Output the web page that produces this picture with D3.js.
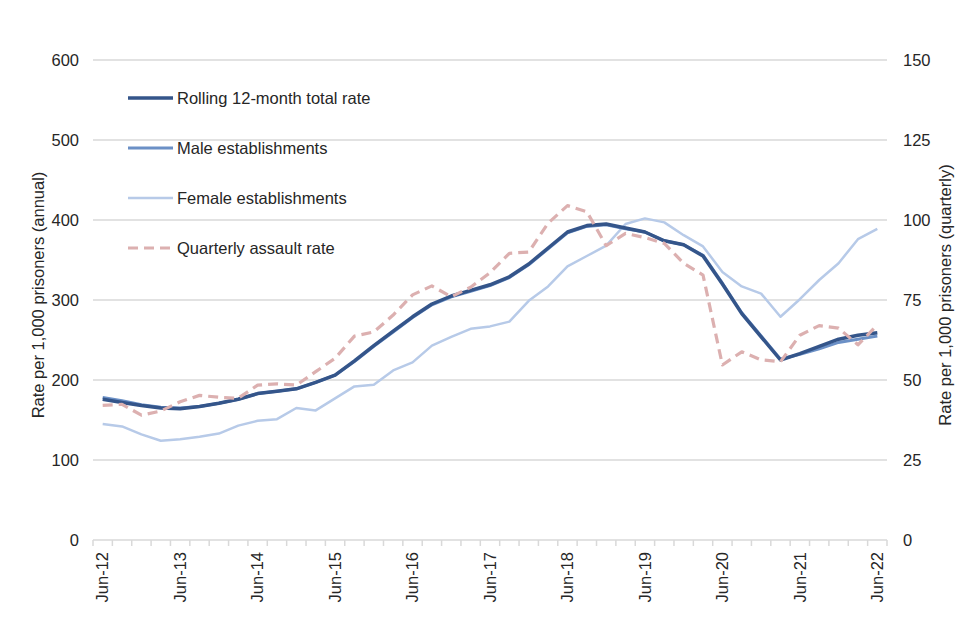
<!DOCTYPE html>
<html>
<head>
<meta charset="utf-8">
<script src="https://d3js.org/d3.v7.min.js"></script>
<style>
  body { margin: 0; background: #fff; }
  text { font-family: "Liberation Sans", Arial, sans-serif; fill: #262626; }
</style>
</head>
<body>
<div id="chart"></div>
<script>
// Quarterly periods, Jun-12 to Jun-22
var quarters = [
  "Jun-12", "Sep-12", "Dec-12", "Mar-13",
  "Jun-13", "Sep-13", "Dec-13", "Mar-14",
  "Jun-14", "Sep-14", "Dec-14", "Mar-15",
  "Jun-15", "Sep-15", "Dec-15", "Mar-16",
  "Jun-16", "Sep-16", "Dec-16", "Mar-17",
  "Jun-17", "Sep-17", "Dec-17", "Mar-18",
  "Jun-18", "Sep-18", "Dec-18", "Mar-19",
  "Jun-19", "Sep-19", "Dec-19", "Mar-20",
  "Jun-20", "Sep-20", "Dec-20", "Mar-21",
  "Jun-21", "Sep-21", "Dec-21", "Mar-22",
  "Jun-22"
];

// Rolling 12-month rates (left axis)
var totalRate = [176, 172, 168, 165, 164, 167, 171, 176, 183, 186, 189, 197, 206, 224, 243, 261,
  279, 295, 305, 312, 319, 329, 345, 365, 385, 393, 395, 390, 385, 374, 369, 355,
  320, 283, 254, 225, 233, 242, 251, 256, 259];
var maleRate = [178, 174, 169, 166, 165, 167, 171, 176, 183, 186, 189, 197, 206, 223, 242, 260,
  278, 294, 304, 311, 318, 328, 344, 364, 384, 392, 394, 389, 385, 374, 369, 356,
  321, 284, 255, 226, 232, 239, 247, 251, 255];
var femaleRate = [145, 142, 132, 124, 126, 129, 133, 143, 149, 151, 165, 162, 177, 192, 194, 212,
  222, 243, 254, 264, 267, 273, 299, 317, 342, 355, 368, 395, 402, 397, 381, 367,
  335, 317, 308, 279, 301, 325, 346, 376, 389];

// Quarterly assault rate (right axis)
var quarterlyRate = [42.1, 42.4, 39, 40.3, 43.2, 45.2, 44.6, 44.3, 48.4, 48.8, 48.4, 52.6, 56.8, 63.7, 65, 70.3,
  76.6, 79.4, 76, 79, 83.5, 89.6, 90, 99, 104.5, 102.6, 92, 95.8, 94.5, 92.7, 86.5, 82.8,
  54.7, 58.8, 56.3, 55.7, 64, 67, 66.2, 61, 67.2];

var leftTicks = [0, 100, 200, 300, 400, 500, 600];
var rightTicks = [0, 25, 50, 75, 100, 125, 150];

var series = [
  { name: "Rolling 12-month total rate", values: totalRate, axis: "left", color: "#34558a", width: 3.5, dash: null },
  { name: "Male establishments", values: maleRate, axis: "left", color: "#6b90c6", width: 3, dash: null },
  { name: "Female establishments", values: femaleRate, axis: "left", color: "#b7cae8", width: 2.5, dash: null },
  { name: "Quarterly assault rate", values: quarterlyRate, axis: "right", color: "#dcb0b0", width: 3.2, dash: "10,6" }
];

var fontSize = "16.5px";

var svgWidth = 960;
var svgHeight = 640;

var margin = {
  top: 60,
  right: 73,
  bottom: 100,
  left: 93
};

var width = svgWidth - margin.left - margin.right;
var height = svgHeight - margin.top - margin.bottom;

var svg = d3.select("#chart")
  .append("svg")
  .attr("width", svgWidth)
  .attr("height", svgHeight);

var chartGroup = svg.append("g")
  .attr("transform", `translate(${margin.left}, ${margin.top})`);

var xScale = d3.scaleBand()
  .domain(quarters)
  .range([0, width]);

var yLeft = d3.scaleLinear()
  .domain([0, 600])
  .range([height, 0]);

var yRight = d3.scaleLinear()
  .domain([0, 150])
  .range([height, 0]);

// gridlines
chartGroup.append("g")
  .selectAll("line")
  .data(leftTicks.slice(1))
  .enter()
  .append("line")
  .attr("x1", 0)
  .attr("x2", width)
  .attr("y1", d => yLeft(d))
  .attr("y2", d => yLeft(d))
  .attr("stroke", "#d9d9d9")
  .attr("stroke-width", 1.5);

// left axis labels
var leftAxis = d3.axisLeft(yLeft)
  .tickValues(leftTicks)
  .tickSize(0)
  .tickPadding(14);

chartGroup.append("g")
  .call(leftAxis)
  .call(g => g.select(".domain").remove())
  .selectAll("text")
  .attr("font-size", fontSize)
  .attr("font-family", "Liberation Sans, Arial, sans-serif")
  .attr("fill", "#262626");

// right axis labels
var rightAxis = d3.axisRight(yRight)
  .tickValues(rightTicks)
  .tickSize(0)
  .tickPadding(16);

chartGroup.append("g")
  .attr("transform", `translate(${width}, 0)`)
  .call(rightAxis)
  .call(g => g.select(".domain").remove())
  .selectAll("text")
  .attr("font-size", fontSize)
  .attr("font-family", "Liberation Sans, Arial, sans-serif")
  .attr("fill", "#262626");

// x axis line and ticks at category boundaries
var xAxisGroup = chartGroup.append("g")
  .attr("transform", `translate(0, ${height})`);

xAxisGroup.append("line")
  .attr("x1", 0)
  .attr("x2", width)
  .attr("stroke", "#d9d9d9")
  .attr("stroke-width", 1.5);

xAxisGroup.selectAll(".tick-mark")
  .data(quarters.concat(["end"]))
  .enter()
  .append("line")
  .attr("class", "tick-mark")
  .attr("x1", (d, i) => i * xScale.bandwidth())
  .attr("x2", (d, i) => i * xScale.bandwidth())
  .attr("y1", 0)
  .attr("y2", 6)
  .attr("stroke", "#d9d9d9")
  .attr("stroke-width", 1.5);

xAxisGroup.selectAll(".x-label")
  .data(quarters.filter((d, i) => i % 4 === 0))
  .enter()
  .append("text")
  .attr("class", "x-label")
  .attr("transform", d => `translate(${xScale(d) + xScale.bandwidth() / 2}, 12) rotate(-90)`)
  .attr("text-anchor", "end")
  .attr("dy", "0.35em")
  .attr("font-size", fontSize)
  .text(d => d);

// lines, drawn back to front
var drawOrder = [series[2], series[1], series[0], series[3]];

drawOrder.forEach(function(s) {
  var yScale = s.axis === "left" ? yLeft : yRight;
  var line = d3.line()
    .x((d, i) => xScale(quarters[i]) + xScale.bandwidth() / 2)
    .y(d => yScale(d));

  chartGroup.append("path")
    .datum(s.values)
    .attr("d", line)
    .attr("fill", "none")
    .attr("stroke", s.color)
    .attr("stroke-width", s.width)
    .attr("stroke-linejoin", "round")
    .attr("stroke-dasharray", s.dash);
});

// legend
var legend = svg.append("g")
  .attr("transform", "translate(128, 98)");

series.forEach(function(s, i) {
  var row = legend.append("g")
    .attr("transform", `translate(0, ${i * 50})`);
  row.append("line")
    .attr("x1", 0)
    .attr("x2", 45)
    .attr("stroke", s.color)
    .attr("stroke-width", s.width)
    .attr("stroke-dasharray", s.dash);
  row.append("text")
    .attr("x", 49)
    .attr("dy", "0.35em")
    .attr("font-size", fontSize)
    .text(s.name);
});

// axis titles
svg.append("text")
  .attr("transform", `translate(44, ${margin.top + height / 2 - 5}) rotate(-90)`)
  .attr("text-anchor", "middle")
  .attr("font-size", fontSize)
  .text("Rate per 1,000 prisoners (annual)");

svg.append("text")
  .attr("transform", `translate(951, ${margin.top + height / 2 - 5}) rotate(-90)`)
  .attr("text-anchor", "middle")
  .attr("font-size", fontSize)
  .text("Rate per 1,000 prisoners (quarterly)");
</script>
</body>
</html>
